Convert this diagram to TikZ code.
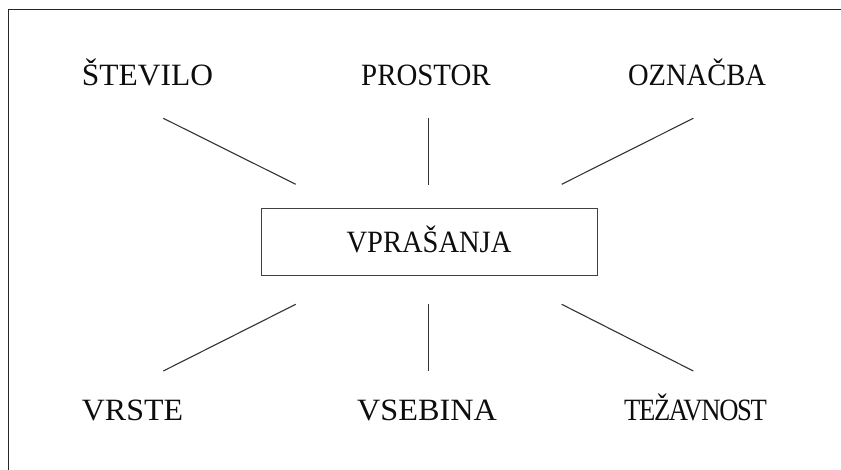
\documentclass[tikz,border=0pt]{standalone}
\usepackage{fontspec}
\setmainfont{Liberation Serif}
\newfontfamily\tightserif[LetterSpace=-5]{Liberation Serif}
\begin{document}
\begin{tikzpicture}[x=0.5pt,y=-0.5pt,
  lbl/.style={font=\fontsize{15.5pt}{18pt}\selectfont, text=black!95, inner sep=0pt, anchor=base},
  qbox/.style={draw=black!75, line width=0.5pt, minimum width=168pt, minimum height=33.5pt,
    inner sep=0pt, text height=10pt, text depth=0pt, font=\fontsize{15.5pt}{18pt}\selectfont, text=black!95},
  link/.style={draw=black!80, line width=0.55pt},
  frame/.style={draw=black!85, line width=0.65pt}]
\useasboundingbox (0,0) rectangle (841,470);
% frame (top and left only)
\coordinate (fr1) at (841,9.5);
\coordinate (fr2) at (8.7,9.5);
\coordinate (fr3) at (8.7,470);
\draw[frame] (fr1) -- (fr2) -- (fr3);
% central box
\node[qbox] (q) at (429,242.5) {\scalebox{0.92}[1]{VPRAŠANJA}};
% labels
\node[lbl] (stevilo) at (147.5,86) {\scalebox{1.015}[1]{ŠTEVILO}};
\node[lbl] (prostor) at (426,86) {\scalebox{0.932}[1]{PROSTOR}};
\node[lbl] (oznacba) at (697,86) {\scalebox{0.921}[1]{OZNAČBA}};
\node[lbl] (vrste) at (132.5,420) {\scalebox{1.03}[1]{VRSTE}};
\node[lbl] (vsebina) at (427,420) {\scalebox{1.04}[1]{VSEBINA}};
\node[lbl] (tezavnost) at (695.5,420) {\scalebox{0.86}[1]{\tightserif TEŽAVNOST}};
% line end points
\coordinate (a1) at (163.3,118.3); \coordinate (a2) at (295.7,184.3);
\coordinate (b1) at (428.3,118.3); \coordinate (b2) at (428.3,185);
\coordinate (c1) at (693.3,118.3); \coordinate (c2) at (561.7,184.3);
\coordinate (d1) at (295.7,304.3); \coordinate (d2) at (163.3,371);
\coordinate (e1) at (428.3,304.3); \coordinate (e2) at (428.3,371);
\coordinate (f1) at (561.7,304.3); \coordinate (f2) at (693.3,371);
\draw[link] (a1) -- (a2);
\draw[link] (b1) -- (b2);
\draw[link] (c1) -- (c2);
\draw[link] (d1) -- (d2);
\draw[link] (e1) -- (e2);
\draw[link] (f1) -- (f2);
\end{tikzpicture}
\end{document}
